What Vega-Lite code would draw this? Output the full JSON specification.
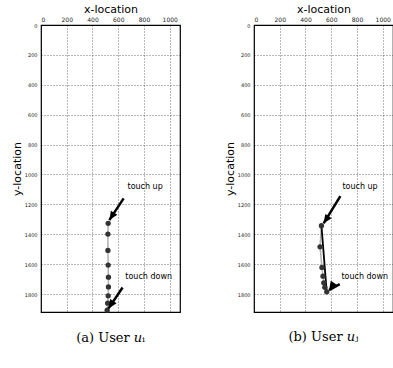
{
  "$schema": "https://vega.github.io/schema/vega-lite/v6.json",
  "padding": {"left": 10, "top": 2, "right": 0, "bottom": 0},
  "spacing": 42,
  "datasets": {
    "pathA": [
      {"seq": 1, "x": 522, "y": 1327},
      {"seq": 2, "x": 520, "y": 1399},
      {"seq": 3, "x": 520, "y": 1508},
      {"seq": 4, "x": 522, "y": 1606},
      {"seq": 5, "x": 524, "y": 1687},
      {"seq": 6, "x": 524, "y": 1752},
      {"seq": 7, "x": 522, "y": 1812},
      {"seq": 8, "x": 518, "y": 1861},
      {"seq": 9, "x": 514, "y": 1908}
    ],
    "pathB": [
      {"seq": 1, "x": 524, "y": 1343},
      {"seq": 2, "x": 513, "y": 1484},
      {"seq": 3, "x": 528, "y": 1622},
      {"seq": 4, "x": 536, "y": 1680},
      {"seq": 5, "x": 542, "y": 1725},
      {"seq": 6, "x": 550, "y": 1755},
      {"seq": 7, "x": 565, "y": 1785}
    ],
    "chordB": [
      {"seq": 1, "x": 524, "y": 1343},
      {"seq": 2, "x": 565, "y": 1785}
    ],
    "arrowsA": [
      {"arrow": "upA", "end": "start", "x": 642, "y": 1160},
      {"arrow": "upA", "end": "tip", "x": 531, "y": 1305},
      {"arrow": "downA", "end": "start", "x": 634, "y": 1756},
      {"arrow": "downA", "end": "tip", "x": 525, "y": 1896}
    ],
    "arrowsB": [
      {"arrow": "upB", "end": "start", "x": 671, "y": 1145},
      {"arrow": "upB", "end": "tip", "x": 541, "y": 1327},
      {"arrow": "downB", "end": "start", "x": 666, "y": 1734},
      {"arrow": "downB", "end": "tip", "x": 583, "y": 1774}
    ],
    "labelsA": [
      {"label": "touch up", "x": 672, "y": 1081},
      {"label": "touch down", "x": 655, "y": 1683}
    ],
    "labelsB": [
      {"label": "touch up", "x": 687, "y": 1081},
      {"label": "touch down", "x": 679, "y": 1683}
    ]
  },
  "hconcat": [
    {
      "width": 139,
      "height": 287,
      "title": {"text": "(a) User 𝑢ᵢ", "orient": "bottom", "offset": 19, "font": "DejaVu Serif", "fontSize": 13, "fontWeight": "normal", "color": "#000"},
      "encoding": {
        "x": {"field": "x", "type": "quantitative", "scale": {"domain": [0, 1080], "nice": false, "zero": false},
              "axis": {"orient": "top", "title": "x-location", "format": "d", "values": [0, 200, 400, 600, 800, 1000], "labelFontSize": 6, "labelPadding": 3, "titlePadding": 2}},
        "y": {"field": "y", "type": "quantitative", "scale": {"domain": [0, 1920], "nice": false, "zero": false, "reverse": true},
              "axis": {"title": "y-location", "format": "d", "values": [0, 200, 400, 600, 800, 1000, 1200, 1400, 1600, 1800], "labelFontSize": 5, "labelPadding": 4, "titlePadding": 2}}
      },
      "layer": [
        {"data": {"name": "pathA"}, "mark": {"type": "line", "color": "#b0b0b0", "strokeWidth": 1.5}, "encoding": {"order": {"field": "seq", "type": "quantitative"}}},
        {"data": {"name": "pathA"}, "mark": {"type": "point", "filled": true, "color": "#333333", "opacity": 1, "size": 28}},
        {"data": {"name": "arrowsA"}, "mark": {"type": "line", "color": "#000", "strokeWidth": 2.5}, "encoding": {"detail": {"field": "arrow"}}},
        {"data": {"name": "arrowsA"}, "transform": [{"filter": "datum.end === 'tip'"}],
         "mark": {"type": "point", "filled": true, "color": "#000", "opacity": 1, "size": 120, "shape": "M0,0 L-0.7,1.6 L0.7,1.6 Z"},
         "encoding": {"angle": {"field": "arrow", "type": "nominal", "legend": null, "scale": {"domain": ["upA", "downA", "upB", "downB"], "range": [213, 214, 211, 241]}}}},
        {"data": {"name": "labelsA"}, "mark": {"type": "text", "align": "left", "baseline": "middle", "font": "DejaVu Sans", "fontSize": 8, "color": "#000"}, "encoding": {"text": {"field": "label"}}}
      ]
    },
    {
      "width": 139,
      "height": 287,
      "title": {"text": "(b) User 𝑢ⱼ", "orient": "bottom", "offset": 19, "font": "DejaVu Serif", "fontSize": 13, "fontWeight": "normal", "color": "#000"},
      "encoding": {
        "x": {"field": "x", "type": "quantitative", "scale": {"domain": [0, 1080], "nice": false, "zero": false},
              "axis": {"orient": "top", "title": "x-location", "format": "d", "values": [0, 200, 400, 600, 800, 1000], "labelFontSize": 6, "labelPadding": 3, "titlePadding": 2}},
        "y": {"field": "y", "type": "quantitative", "scale": {"domain": [0, 1920], "nice": false, "zero": false, "reverse": true},
              "axis": {"title": "y-location", "format": "d", "values": [0, 200, 400, 600, 800, 1000, 1200, 1400, 1600, 1800], "labelFontSize": 5, "labelPadding": 4, "titlePadding": 2}}
      },
      "layer": [
        {"data": {"name": "pathB"}, "mark": {"type": "line", "color": "#b0b0b0", "strokeWidth": 1.5}, "encoding": {"order": {"field": "seq", "type": "quantitative"}}},
        {"data": {"name": "chordB"}, "mark": {"type": "line", "color": "#000", "strokeWidth": 1.8}, "encoding": {"order": {"field": "seq", "type": "quantitative"}}},
        {"data": {"name": "pathB"}, "mark": {"type": "point", "filled": true, "color": "#333333", "opacity": 1, "size": 28}},
        {"data": {"name": "arrowsB"}, "mark": {"type": "line", "color": "#000", "strokeWidth": 2.5}, "encoding": {"detail": {"field": "arrow"}}},
        {"data": {"name": "arrowsB"}, "transform": [{"filter": "datum.end === 'tip'"}],
         "mark": {"type": "point", "filled": true, "color": "#000", "opacity": 1, "size": 120, "shape": "M0,0 L-0.7,1.6 L0.7,1.6 Z"},
         "encoding": {"angle": {"field": "arrow", "type": "nominal", "legend": null, "scale": {"domain": ["upA", "downA", "upB", "downB"], "range": [213, 214, 211, 241]}}}},
        {"data": {"name": "labelsB"}, "mark": {"type": "text", "align": "left", "baseline": "middle", "font": "DejaVu Sans", "fontSize": 8, "color": "#000"}, "encoding": {"text": {"field": "label"}}}
      ]
    }
  ],
  "config": {
    "background": "white",
    "view": {"stroke": "#000", "strokeWidth": 1.2},
    "axis": {
      "grid": true, "gridColor": "#000", "gridDash": [1, 2], "gridOpacity": 0.7, "gridWidth": 0.8,
      "domain": false, "ticks": false,
      "labelFont": "DejaVu Sans", "labelColor": "#222",
      "titleFont": "DejaVu Sans", "titleFontWeight": "normal", "titleFontSize": 11, "titleColor": "#000"
    }
  }
}
